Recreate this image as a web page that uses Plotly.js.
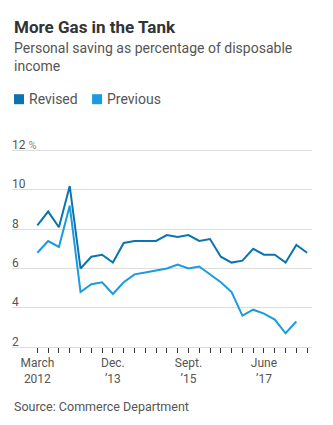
<!DOCTYPE html>
<html>
<head>
<meta charset="utf-8">
<script src="https://cdn.plot.ly/plotly-3.0.1.min.js"></script>
<style>
  html, body { margin: 0; padding: 0; background: #fff; }
  #chart { width: 333px; height: 425px; }
</style>
</head>
<body>
<div id="chart"></div>
<script>
// ---- data ----
const quarters = [
  "2012 Q1","2012 Q2","2012 Q3","2012 Q4",
  "2013 Q1","2013 Q2","2013 Q3","2013 Q4",
  "2014 Q1","2014 Q2","2014 Q3","2014 Q4",
  "2015 Q1","2015 Q2","2015 Q3","2015 Q4",
  "2016 Q1","2016 Q2","2016 Q3","2016 Q4",
  "2017 Q1","2017 Q2","2017 Q3","2017 Q4",
  "2018 Q1","2018 Q2"
];
const revised = [8.2, 8.9, 8.1, 10.2, 6.0, 6.6, 6.7, 6.3, 7.3, 7.4, 7.4, 7.4, 7.7, 7.6, 7.7, 7.4, 7.5, 6.6, 6.3, 6.4, 7.0, 6.7, 6.7, 6.3, 7.2, 6.8];
const previous = [6.8, 7.4, 7.1, 9.2, 4.8, 5.2, 5.3, 4.7, 5.3, 5.7, 5.8, 5.9, 6.0, 6.2, 6.0, 6.1, 5.7, 5.3, 4.8, 3.6, 3.9, 3.7, 3.4, 2.7, 3.3, null];
const xTickText = ["March<br>2012","","","","","","","Dec.<br>’13","","","","","","","Sept.<br>’15","","","","","","","June<br>’17","","","",""];
const yTickVals = [2, 4, 6, 8, 10, 12];
const yTickText = ["2", "4", "6", "8", "10", "12 <span style='font-size:11px;color:#888'>%</span>"];
const seriesNames = ["Revised", "Previous"];
const seriesColors = ["#0b74ae", "#1a9be0"];

const titleText = "More Gas in the Tank";
const subtitleText = "Personal saving as percentage of disposable<br>income";
const sourceText = "Source: Commerce Department";

// ---- layout helpers (pixel -> paper) ----
const W = 333, H = 425;
const L = 12, R = 311.7, B = 347.3;
const unitPx = 19.63;           // pixels per y unit
const yTop = 12.8;              // headroom above the top gridline
const T = B - (yTop - 2) * unitPx;
const px = p => (p - L) / (R - L);
const py = p => (B - p) / (B - T);
const FONT = "Roboto, 'Open Sans', sans-serif";

const traces = [
  {x: quarters, y: revised, name: seriesNames[0], type: "scatter", mode: "lines",
   line: {color: seriesColors[0], width: 2, shape: "linear"}, hoverinfo: "skip", showlegend: false},
  {x: quarters, y: previous, name: seriesNames[1], type: "scatter", mode: "lines",
   line: {color: seriesColors[1], width: 2, shape: "linear"}, hoverinfo: "skip", showlegend: false}
];

const annotations = [
  {text: "<b>" + titleText + "</b>", xref: "paper", yref: "paper", x: 0, y: py(27), xanchor: "left", yanchor: "middle",
   showarrow: false, align: "left", font: {family: FONT, size: 17, color: "#333"}},
  {text: subtitleText, xref: "paper", yref: "paper", x: 0, y: py(57), xanchor: "left", yanchor: "middle",
   showarrow: false, align: "left", font: {family: FONT, size: 14, color: "#555"}},
  {text: seriesNames[0], xref: "paper", yref: "paper", x: px(27), y: py(99.5), xanchor: "left", yanchor: "middle",
   showarrow: false, font: {family: FONT, size: 14, color: "#555"}},
  {text: seriesNames[1], xref: "paper", yref: "paper", x: px(105), y: py(99.5), xanchor: "left", yanchor: "middle",
   showarrow: false, font: {family: FONT, size: 14, color: "#555"}},
  {text: sourceText, xref: "paper", yref: "paper", x: 0, y: py(407), xanchor: "left", yanchor: "middle",
   showarrow: false, font: {family: FONT, size: 12.5, color: "#555"}}
];
// y-axis labels sit above their gridlines, left-aligned (WSJ style)
yTickVals.forEach((v, i) => {
  annotations.push({text: yTickText[i], xref: "paper", yref: "y", x: 0, y: v,
    xanchor: "left", yanchor: "bottom", yshift: -2.5, xshift: -1, showarrow: false, borderpad: 0,
    font: {family: FONT, size: 12, color: "#555"}});
});

const shapes = [
  {type: "rect", xref: "paper", yref: "paper", x0: px(14), x1: px(24), y0: py(104.5), y1: py(94.5),
   fillcolor: seriesColors[0], line: {width: 0}},
  {type: "rect", xref: "paper", yref: "paper", x0: px(92), x1: px(102), y0: py(104.5), y1: py(94.5),
   fillcolor: seriesColors[1], line: {width: 0}}
];

const layout = {
  width: W, height: H,
  margin: {l: L, r: W - R, t: T, b: H - B, pad: 0},
  paper_bgcolor: "#fff", plot_bgcolor: "#fff",
  showlegend: false,
  font: {family: FONT, color: "#555"},
  xaxis: {
    type: "category",
    categoryorder: "array", categoryarray: quarters,
    range: [-2.35, 25.45],
    tickvals: quarters, ticktext: xTickText,
    ticks: "outside", ticklen: 5, tickwidth: 1, tickcolor: "#333",
    showgrid: false, zeroline: false,
    showline: true, linecolor: "#ddd", linewidth: 1,
    tickfont: {family: FONT, size: 12, color: "#555"},
    fixedrange: true
  },
  yaxis: {
    range: [2, yTop],
    tickvals: yTickVals,
    showticklabels: false,
    ticks: "",
    showgrid: true, gridcolor: "#ddd", gridwidth: 1,
    zeroline: false, showline: false,
    fixedrange: true
  },
  annotations: annotations,
  shapes: shapes
};

Plotly.newPlot("chart", traces, layout, {displayModeBar: false, staticPlot: true});
</script>
</body>
</html>
